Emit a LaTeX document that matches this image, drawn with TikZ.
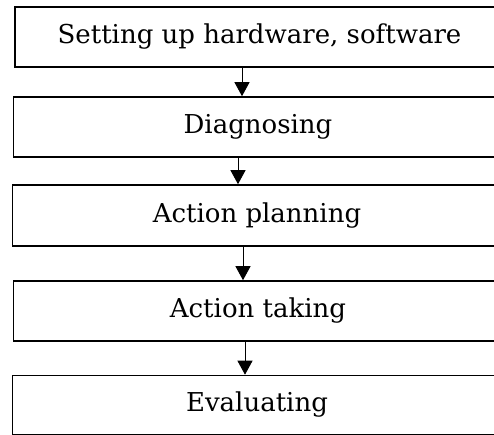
\documentclass[tikz,border=0pt]{standalone}
\usepackage{fontspec}
\setmainfont{DejaVu Serif}
\usetikzlibrary{arrows.meta}

\begin{document}
\begin{tikzpicture}[x=1pt,y=-1pt]
\tikzstyle{every node}+=[inner sep=0pt]
\tikzstyle{stage}=[draw=black,line width=1.6pt,minimum width=489pt,font=\fontsize{26}{30}\selectfont]
\tikzstyle{flow}=[black,line width=1pt,-{Triangle[width=15pt,length=14pt]}]
\useasboundingbox (0,0) rectangle (494,435);
\clip (0,0) rectangle (494,435);
\node [stage,minimum height=60pt] (setup) at (259.5,37) {Setting up hardware, software};
\node [stage,minimum height=60pt] (diag) at (258,127) {Diagnosing};
\node [stage,minimum height=61pt] (plan) at (257,215.5) {Action planning};
\node [stage,minimum height=60pt] (take) at (258,311) {Action taking};
\node [stage,minimum height=59pt] (eval) at (257,405) {Evaluating};
\draw [flow] (setup.south -| 242,0) -- (diag.north -| 242,0);
\draw [flow] (diag.south -| 238,0) -- (plan.north -| 238,0);
\draw [flow] (plan.south -| 243,0) -- (take.north -| 243,0);
\draw [flow] (take.south -| 245,0) -- (eval.north -| 245,0);
\end{tikzpicture}
\end{document}
